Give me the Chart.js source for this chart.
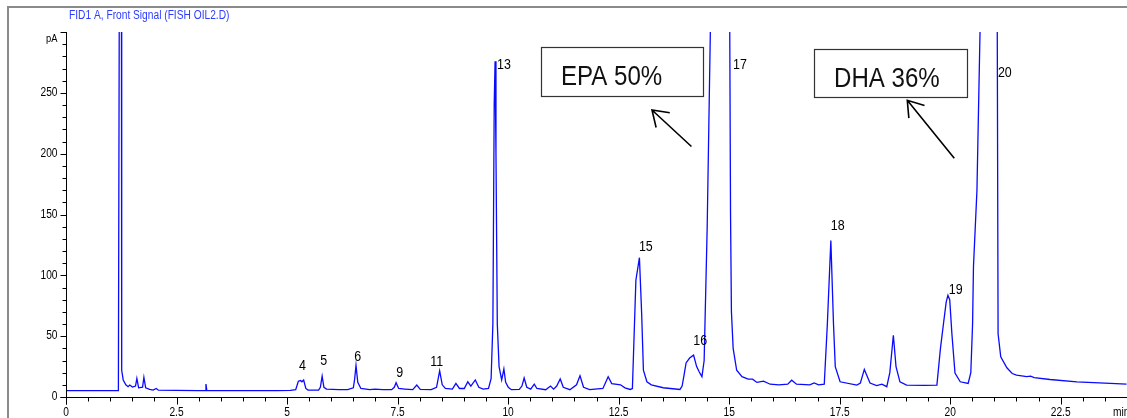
<!DOCTYPE html>
<html>
<head>
<meta charset="utf-8">
<script src="https://cdn.jsdelivr.net/npm/chart.js@4.4.1/dist/chart.umd.min.js"></script>
<style>
html,body{margin:0;padding:0;background:#fff;}
canvas{display:block;}
</style>
</head>
<body>
<canvas id="c" width="1127" height="418"></canvas>
<script>
// Retention time (min) and detector signal (pA)
const times = [0,1.00,1.185,1.205,1.23,1.254,1.256,1.264,1.294,1.354,1.404,1.443,1.503,1.573,1.603,1.643,1.732,1.762,1.802,1.891,1.971,2.041,2.09,2.49,2.99,3.146,3.166,3.186,3.98,4.78,5.077,5.196,5.256,5.306,5.336,5.376,5.425,5.475,5.714,5.754,5.794,5.834,5.893,6.172,6.371,6.5,6.53,6.56,6.6,6.67,6.869,6.988,7.167,7.367,7.426,7.466,7.526,7.665,7.844,7.934,8.014,8.262,8.382,8.452,8.511,8.581,8.74,8.82,8.9,9.009,9.089,9.158,9.258,9.338,9.437,9.557,9.616,9.656,9.686,9.706,9.726,9.756,9.796,9.855,9.905,9.945,10.005,10.074,10.253,10.313,10.363,10.423,10.512,10.592,10.652,10.851,10.96,11.03,11.1,11.179,11.249,11.398,11.548,11.627,11.707,11.846,12.145,12.264,12.344,12.543,12.643,12.762,12.812,12.891,12.971,13.021,13.061,13.14,13.24,13.509,13.887,13.937,13.99,14.026,14.106,14.196,14.265,14.325,14.385,14.435,14.504,14.584,14.803,15.012,15.032,15.052,15.091,15.171,15.291,15.43,15.53,15.629,15.778,15.928,16.127,16.326,16.415,16.525,16.824,16.923,17.023,17.152,17.222,17.301,17.361,17.401,17.51,17.889,17.969,18.058,18.187,18.337,18.456,18.566,18.635,18.715,18.775,18.864,19.014,19.412,19.7,19.78,19.85,19.91,19.949,19.99,20.039,20.109,20.228,20.407,20.467,20.507,20.527,20.606,20.686,20.875,21.064,21.084,21.144,21.283,21.403,21.502,21.731,21.821,21.9,22.259,22.866,23.623,23.99];
const signal = [5.3,5.3,5.3,320,3000,320,47,22,14,10,8.5,9.8,8.2,9,15.3,7.5,8,16.1,7.5,6.2,5.7,7,5.6,5.4,5.3,5.3,10.6,5.3,5.2,5.2,5.4,6,13,13.5,12.5,14,7,5.7,5.7,8,17.2,8,6.5,6,6,7.5,15,26,12,7,6,6.5,6,6,8,11.7,7,6.5,6,9.8,6.2,6,8,21.5,10,7,6.5,11.2,7,7,12.5,9,14,8,6.5,7,15,60,240,276,200,60,25,14,23,12,8,6,6.2,9,15.6,8,6.5,10.6,7,6,9,6.5,9,14.8,8,6,10,17.5,8,6,7,16.6,11,10,7.5,6.2,7,96,114.5,69,22,12.5,10,7.6,6.2,9,20,28,32,34.4,25,20.5,16.7,30,140,320,3000,320,150,70,40,22,16.7,14.7,14.7,12,13,10.5,10,10.5,13.8,10.5,10,11.5,10,10.6,60,128.7,60,25,12.5,9.8,11.5,22.7,11.5,9.3,10.6,8.5,20,50.8,25,12.5,9.8,9.5,9.8,40,60.6,78,83.6,80,52,19.7,12.5,11.2,20,60,107,170,320,3000,320,52,33,24,19.3,18,16.7,17.2,16,14.4,12.5,11.2,10.6];

const xTickValues = [0,2.5,5,7.5,10,12.5,15,17.5,20,22.5];
const xTickLabels = ['0','2.5','5','7.5','10','12.5','15','17.5','20','22.5'];
const yTickValues = [0,50,100,150,200,250];
const yTickLabels = ['0','50','100','150','200','250'];
const peakNames = ['4','5','6','9','11','13','15','16','17','18','19','20'];
const peakLabelTimes = [5.27,5.75,6.52,7.47,8.24,9.75,12.96,14.19,15.09,17.30,19.97,21.08];
const peakLabelSignals = [25.5,29.6,32.9,19.7,28.8,272.9,123.3,46.0,272.9,140.5,88.0,266.3];
const titleText = 'FID1 A, Front Signal (FISH OIL2.D)';
const callouts = [
  {text:'EPA 50%', box:[10.755,14.42,287.3,247.0], arrowTail:[14.148,205.9], arrowTip:[13.255,235.9]},
  {text:'DHA 36%', box:[16.91,20.37,286.4,246.2], arrowTail:[20.093,196.2], arrowTip:[19.03,243.9]}
];

const FONT = '"Liberation Sans",Arial,sans-serif';
const NARROW = 0.85;

function condText(ctx, text, x, y, align, sx){
  ctx.save();
  ctx.translate(x, y);
  ctx.scale(sx, 1);
  ctx.textAlign = align;
  ctx.fillText(text, 0, 0);
  ctx.restore();
}

const chromPlugin = {
  id: 'chrom',
  beforeDraw(chart){
    const ctx = chart.ctx;
    ctx.save();
    ctx.fillStyle = '#fff';
    ctx.fillRect(0,0,chart.width,chart.height);
    ctx.strokeStyle = '#8a8a8a';
    ctx.lineWidth = 2;
    ctx.beginPath();
    ctx.moveTo(8, chart.height);
    ctx.lineTo(8, 7);
    ctx.lineTo(chart.width, 7);
    ctx.stroke();
    ctx.fillStyle = '#2b3bff';
    ctx.font = '12px ' + FONT;
    ctx.textBaseline = 'middle';
    condText(ctx, titleText, 69, 16, 'left', NARROW);
    ctx.restore();
  },
  afterDatasetsDraw(chart){
    const ctx = chart.ctx;
    const xs = chart.scales.x, ys = chart.scales.y;
    const x0 = Math.round(xs.getPixelForValue(0)) + 0.5;
    const y0 = Math.round(ys.getPixelForValue(0)) + 0.5;
    ctx.save();
    ctx.strokeStyle = '#000';
    ctx.lineWidth = 1;
    ctx.beginPath();
    ctx.moveTo(x0, ys.getPixelForValue(300));
    ctx.lineTo(x0, y0 + 7);
    ctx.moveTo(x0 - 6, y0);
    ctx.lineTo(chart.width, y0);
    for (let v = 0; v <= 300; v += 10) {
      const py = Math.round(ys.getPixelForValue(v)) + 0.5;
      const len = (v % 50 === 0) ? 6 : 4;
      ctx.moveTo(x0 - len, py);
      ctx.lineTo(x0, py);
    }
    for (let i = 0; i <= 48; i++) {
      const v = i * 0.5;
      const px = Math.round(xs.getPixelForValue(v)) + 0.5;
      if (px > chart.width) break;
      const len = (i % 5 === 0) ? 7 : 4;
      ctx.moveTo(px, y0);
      ctx.lineTo(px, y0 + len);
    }
    ctx.stroke();

    ctx.fillStyle = '#000';
    ctx.font = '12px ' + FONT;
    ctx.textBaseline = 'middle';
    yTickValues.forEach((v, i) => {
      condText(ctx, yTickLabels[i], x0 - 9, ys.getPixelForValue(v), 'right', NARROW);
    });
    ctx.font = '11px ' + FONT;
    condText(ctx, 'pA', x0 - 9, ys.getPixelForValue(300) + 7, 'right', NARROW);
    ctx.font = '12px ' + FONT;
    xTickValues.forEach((v, i) => {
      condText(ctx, xTickLabels[i], xs.getPixelForValue(v), y0 + 15, 'center', NARROW);
    });
    condText(ctx, 'min', 1113, y0 + 15, 'left', NARROW);

    ctx.font = '15px ' + FONT;
    ctx.textBaseline = 'middle';
    peakNames.forEach((n, i) => {
      condText(ctx, n, xs.getPixelForValue(peakLabelTimes[i]), ys.getPixelForValue(peakLabelSignals[i]), 'left', 0.83);
    });

    callouts.forEach(c => {
      const bx0 = Math.round(xs.getPixelForValue(c.box[0])) + 0.5;
      const bx1 = Math.round(xs.getPixelForValue(c.box[1])) + 0.5;
      const by0 = Math.round(ys.getPixelForValue(c.box[2])) + 0.5;
      const by1 = Math.round(ys.getPixelForValue(c.box[3])) + 0.5;
      ctx.strokeStyle = '#333';
      ctx.lineWidth = 1.2;
      ctx.strokeRect(bx0, by0, bx1 - bx0, by1 - by0);
      ctx.fillStyle = '#111';
      ctx.font = '28px ' + FONT;
      ctx.textBaseline = 'alphabetic';
      condText(ctx, c.text, bx0 + 19.5, by0 + 37.5, 'left', 0.86);
      const tx = xs.getPixelForValue(c.arrowTail[0]), ty = ys.getPixelForValue(c.arrowTail[1]);
      const hx = xs.getPixelForValue(c.arrowTip[0]), hy = ys.getPixelForValue(c.arrowTip[1]);
      ctx.strokeStyle = '#000';
      ctx.lineWidth = 1.6;
      ctx.beginPath();
      ctx.moveTo(tx, ty);
      ctx.lineTo(hx, hy);
      const ang = Math.atan2(ty - hy, tx - hx);
      const L = 18, spread = 34 * Math.PI / 180;
      ctx.moveTo(hx + L * Math.cos(ang - spread), hy + L * Math.sin(ang - spread));
      ctx.lineTo(hx, hy);
      ctx.lineTo(hx + L * Math.cos(ang + spread), hy + L * Math.sin(ang + spread));
      ctx.stroke();
    });
    ctx.restore();
  }
};

const points = times.map((t, i) => ({x: t, y: signal[i]}));

new Chart(document.getElementById('c'), {
  type: 'line',
  data: {
    datasets: [{
      data: points,
      borderColor: '#0a0aff',
      borderWidth: 1.3,
      pointRadius: 0,
      tension: 0,
      fill: false
    }]
  },
  options: {
    responsive: false,
    animation: false,
    devicePixelRatio: 1,
    layout: {padding: {left: 66, top: 32, right: 0, bottom: 21}},
    plugins: {legend: {display: false}, tooltip: {enabled: false}},
    scales: {
      x: {type: 'linear', min: 0, max: 24, display: false},
      y: {type: 'linear', min: 0, max: 300, display: false}
    }
  },
  plugins: [chromPlugin]
});
</script>
</body>
</html>
